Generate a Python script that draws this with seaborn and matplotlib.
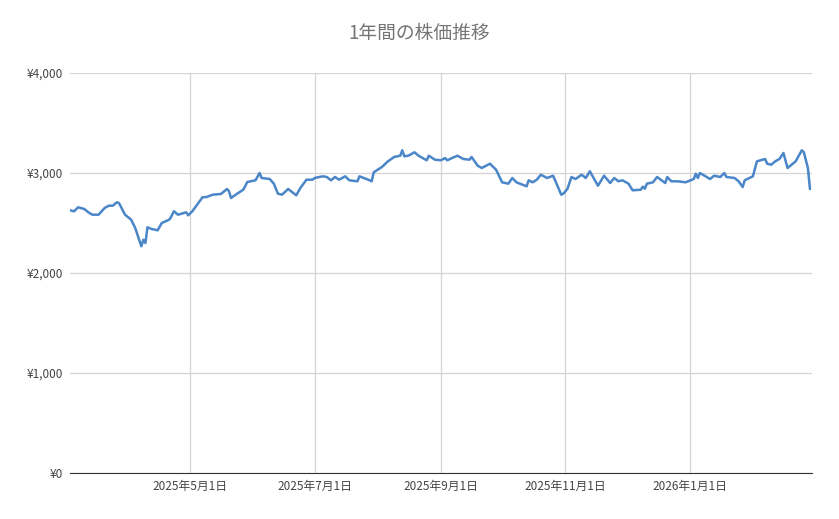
import pandas as pd
import matplotlib.pyplot as plt
import matplotlib.dates as mdates
import matplotlib.ticker as mticker
import seaborn as sns

# 株価データ
dates = [
    "2025-03-03", "2025-03-05", "2025-03-07", "2025-03-10", "2025-03-12", "2025-03-14",
    "2025-03-17", "2025-03-20", "2025-03-22", "2025-03-24", "2025-03-26", "2025-03-27",
    "2025-03-30", "2025-04-02", "2025-04-04", "2025-04-07", "2025-04-08", "2025-04-09",
    "2025-04-10", "2025-04-12", "2025-04-15", "2025-04-17", "2025-04-20", "2025-04-21",
    "2025-04-23", "2025-04-25", "2025-04-29", "2025-04-30", "2025-05-02", "2025-05-07",
    "2025-05-09", "2025-05-12", "2025-05-16", "2025-05-19", "2025-05-20", "2025-05-21",
    "2025-05-24", "2025-05-27", "2025-05-29", "2025-06-02", "2025-06-04", "2025-06-05",
    "2025-06-09", "2025-06-11", "2025-06-13", "2025-06-15", "2025-06-18", "2025-06-22",
    "2025-06-24", "2025-06-27", "2025-06-30", "2025-07-01", "2025-07-05", "2025-07-07",
    "2025-07-09", "2025-07-11", "2025-07-13", "2025-07-16", "2025-07-18", "2025-07-22",
    "2025-07-23", "2025-07-28", "2025-07-29", "2025-07-30", "2025-08-03", "2025-08-06",
    "2025-08-09", "2025-08-12", "2025-08-13", "2025-08-14", "2025-08-16", "2025-08-19",
    "2025-08-21", "2025-08-25", "2025-08-26", "2025-08-29", "2025-09-01", "2025-09-03",
    "2025-09-04", "2025-09-09", "2025-09-12", "2025-09-15", "2025-09-16", "2025-09-19",
    "2025-09-21", "2025-09-25", "2025-09-28", "2025-10-01", "2025-10-04", "2025-10-06",
    "2025-10-08", "2025-10-13", "2025-10-14", "2025-10-16", "2025-10-18", "2025-10-20",
    "2025-10-23", "2025-10-26", "2025-10-30", "2025-10-31", "2025-11-02", "2025-11-04",
    "2025-11-06", "2025-11-09", "2025-11-11", "2025-11-13", "2025-11-17", "2025-11-20",
    "2025-11-23", "2025-11-25", "2025-11-27", "2025-11-29", "2025-12-02", "2025-12-04",
    "2025-12-08", "2025-12-09", "2025-12-10", "2025-12-11", "2025-12-14", "2025-12-16",
    "2025-12-20", "2025-12-21", "2025-12-23", "2025-12-26", "2025-12-30", "2026-01-03",
    "2026-01-04", "2026-01-05", "2026-01-06", "2026-01-11", "2026-01-13", "2026-01-16",
    "2026-01-18", "2026-01-19", "2026-01-23", "2026-01-25", "2026-01-27", "2026-01-28",
    "2026-02-01", "2026-02-03", "2026-02-07", "2026-02-08", "2026-02-10", "2026-02-12",
    "2026-02-14", "2026-02-16", "2026-02-18", "2026-02-22", "2026-02-25", "2026-02-26",
    "2026-02-28", "2026-03-01",
]
prices = [
    2627, 2617, 2657, 2640, 2607, 2583,
    2583, 2650, 2673, 2673, 2707, 2700,
    2583, 2533, 2450, 2267, 2333, 2300,
    2457, 2440, 2427, 2500, 2527, 2540,
    2617, 2583, 2607, 2577, 2617, 2757,
    2760, 2783, 2790, 2840, 2817, 2750,
    2793, 2833, 2910, 2927, 3000, 2950,
    2940, 2893, 2793, 2783, 2840, 2777,
    2850, 2933, 2933, 2950, 2967, 2960,
    2927, 2960, 2933, 2967, 2927, 2917,
    2967, 2927, 2917, 3007, 3060, 3117,
    3160, 3173, 3227, 3167, 3173, 3207,
    3173, 3127, 3173, 3133, 3127, 3150,
    3127, 3173, 3140, 3133, 3160, 3073,
    3050, 3093, 3033, 2907, 2893, 2950,
    2907, 2867, 2927, 2907, 2933, 2983,
    2950, 2973, 2783, 2793, 2840, 2960,
    2940, 2983, 2950, 3017, 2873, 2973,
    2900, 2950, 2917, 2927, 2893, 2827,
    2833, 2863, 2843, 2893, 2907, 2960,
    2900, 2960, 2917, 2917, 2907, 2940,
    2993, 2950, 3000, 2940, 2973, 2960,
    3000, 2960, 2950, 2917, 2860, 2927,
    2967, 3117, 3140, 3093, 3083, 3117,
    3140, 3200, 3050, 3117, 3227, 3207,
    3050, 2840,
]
x_ticks = ["2025-05-01", "2025-07-01", "2025-09-01", "2025-11-01", "2026-01-01"]
y_ticks = [0, 1000, 2000, 3000, 4000]

df = pd.DataFrame({"日付": pd.to_datetime(dates), "株価": prices})

sns.set_style("white")
plt.rcParams['font.family'] = ['Noto Sans CJK JP', 'DejaVu Sans']

fig = plt.figure(figsize=(8.39, 5.19), dpi=100)
ax = fig.add_axes([70 / 839, 46 / 519, 742 / 839, 400 / 519])

sns.lineplot(data=df, x="日付", y="株価", ax=ax, color="#4a86c8", linewidth=1.8)

ax.set_xlim(pd.Timestamp("2025-03-03"), pd.Timestamp("2026-03-02"))
ax.set_ylim(0, 4000)
ax.set_xticks(pd.to_datetime(x_ticks))
ax.xaxis.set_major_formatter(mdates.DateFormatter("%Y年%-m月%-d日"))
ax.set_yticks(y_ticks)
ax.yaxis.set_major_formatter(mticker.FuncFormatter(lambda v, p: f"¥{v:,.0f}"))

ax.grid(True, color="#d4d4d4", linewidth=0.9)
ax.set_axisbelow(True)
for side in ["top", "right", "left"]:
    ax.spines[side].set_visible(False)
ax.spines["bottom"].set_color("#333333")
ax.tick_params(axis="both", length=0, labelsize=8.5, colors="#444444", pad=5)
ax.set_xlabel("")
ax.set_ylabel("")

fig.suptitle("1年間の株価推移", x=0.5, y=0.955, fontsize=13.5, color="#757575")

fig.savefig("out.png", dpi=100, facecolor="white")
